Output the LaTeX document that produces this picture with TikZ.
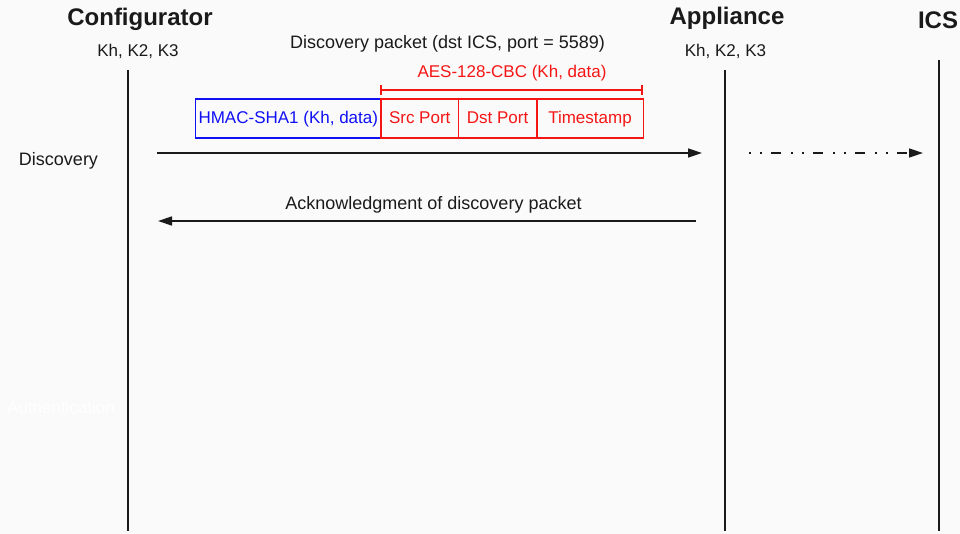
\documentclass[tikz,border=0pt]{standalone}
\usepackage{fontspec}
\setmainfont{Liberation Sans}
\usetikzlibrary{arrows.meta}
\definecolor{bg}{HTML}{FAFAFA}
\definecolor{ink}{HTML}{1A1A1A}
\definecolor{macblue}{HTML}{1010F5}
\definecolor{encred}{HTML}{F51515}
\begin{document}
\begin{tikzpicture}[x=1pt,y=-1pt,
  actor/.style={font=\fontsize{24}{28}\selectfont\bfseries, text=ink, inner sep=0, anchor=base},
  lbl/.style={font=\fontsize{17}{20}\selectfont, text=ink, inner sep=0, anchor=base},
  biglbl/.style={lbl, font=\fontsize{18}{21}\selectfont},
  lifeline/.style={draw=ink, line width=1.6pt},
  msg/.style={draw=ink, line width=1.4pt, -{Triangle[length=14pt,width=9pt]}},
  fwdmsg/.style={msg, dash pattern=on 1.5pt off 9.5pt on 1.5pt off 9.5pt on 10pt off 10pt},
  field/.style={text=encred, minimum height=38.5pt,
    inner sep=0, anchor=west, font=\fontsize{17}{20}\selectfont,
    text height=12.2pt, text depth=1.2pt},
  macfield/.style={field, text=macblue, anchor=east},
  redframe/.style={draw=encred, line width=1.4pt},
  blueframe/.style={draw=macblue, line width=1.4pt}
]
% canvas
\fill[bg] (0,0) rectangle (960,534);
\useasboundingbox (0,0) rectangle (960,534);

% participants
\node[actor] (conf) at (140,26) {Configurator};
\node[actor] (app) at (727,25) {Appliance};
\node[actor] (ics) at (938,29) {ICS};
\node[lbl] (confkeys) at (138,57) {Kh, K2, K3};
\node[lbl] (appkeys) at (725.5,57) {Kh, K2, K3};

% lifelines
\coordinate (confTop) at (128,70);
\coordinate (confBot) at (128,531);
\coordinate (appTop) at (725,70);
\coordinate (appBot) at (725,531);
\coordinate (icsTop) at (939,60);
\coordinate (icsBot) at (939,531);
\draw[lifeline] (confTop) -- (confBot);
\draw[lifeline] (appTop) -- (appBot);
\draw[lifeline] (icsTop) -- (icsBot);

% packet layout
\node[biglbl] (pkt) at (447.5,49) {Discovery packet (dst ICS, port = 5589)};
\node[lbl, text=encred] (aes) at (512,78) {AES-128-CBC (Kh, data)};
\coordinate (encL) at (381,90);
\coordinate (encR) at (642,90);
\draw[redframe] (encL) -- (encR)
  (encL) ++(0,-5) -- ++(0,10)
  (encR) ++(0,-5) -- ++(0,10);

\node[macfield, minimum width=185pt] (hmac) at (381,118.5) {HMAC-SHA1 (Kh, data)};
\node[field, minimum width=77pt] (src) at (381,118.5) {Src Port};
\node[field, minimum width=78pt] (dst) at (src.east) {Dst Port};
\node[field, minimum width=106pt] (ts) at (dst.east) {Timestamp};
\draw[blueframe] (hmac.north west) rectangle (hmac.south east);
\draw[redframe] (src.north west) rectangle (src.south east);
\draw[redframe] (dst.north west) rectangle (dst.south east);
\draw[redframe] (ts.north west) rectangle (ts.south east);

% phases
\node[biglbl] (disc) at (58.5,166) {Discovery};
\node[lbl, text=white] (auth) at (61,413) {Authentication};

% messages
\coordinate (discS) at (157,153);
\coordinate (discE) at (702,153);
\draw[msg] (discS) -- (discE);

\coordinate (fwdS) at (749,153);
\coordinate (fwdE) at (923,153);
\draw[fwdmsg] (fwdS) -- (fwdE);

\node[biglbl] (ack) at (433.5,210) {Acknowledgment of discovery packet};
\coordinate (ackS) at (696,221);
\coordinate (ackE) at (158,221);
\draw[msg] (ackS) -- (ackE);
\end{tikzpicture}
\end{document}
